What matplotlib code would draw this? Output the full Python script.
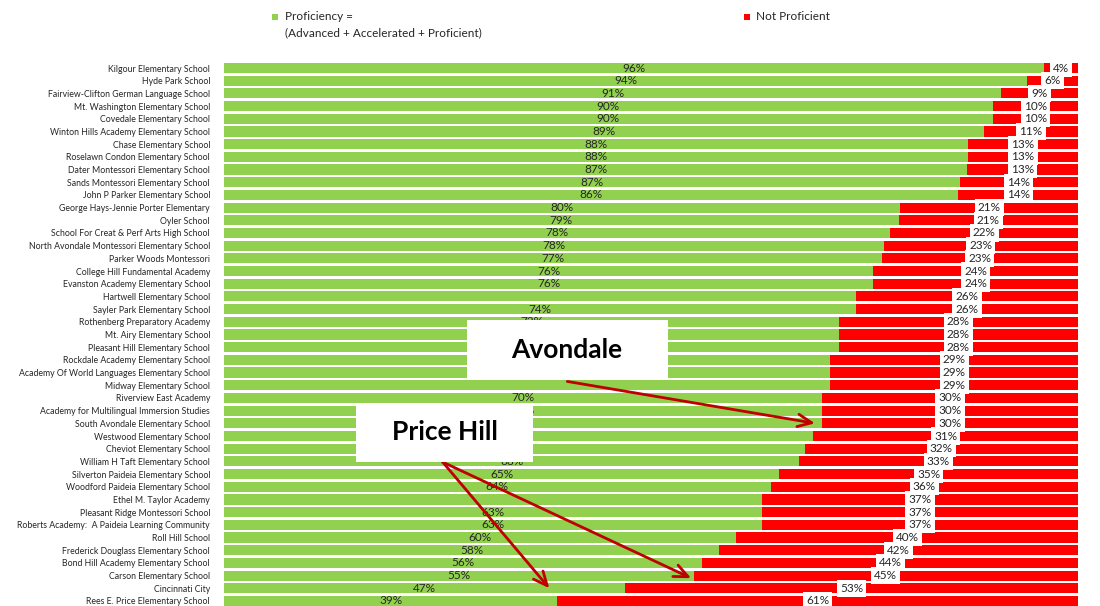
import matplotlib
matplotlib.use('Agg')
import matplotlib.pyplot as plt
from matplotlib.patches import Rectangle
import numpy as np

plt.rcParams['font.family'] = ['Lato', 'DejaVu Sans']

# schools, top to bottom
schools = [
    'Kilgour Elementary School', 'Hyde Park School', 'Fairview-Clifton German Language School',
    'Mt. Washington Elementary School', 'Covedale Elementary School',
    'Winton Hills Academy Elementary School', 'Chase Elementary School',
    'Roselawn Condon Elementary School', 'Dater Montessori Elementary School',
    'Sands Montessori Elementary School', 'John P Parker Elementary School',
    'George Hays-Jennie Porter Elementary', 'Oyler School',
    'School For Creat & Perf Arts High School', 'North Avondale Montessori Elementary School',
    'Parker Woods Montessori', 'College Hill Fundamental Academy',
    'Evanston Academy Elementary School', 'Hartwell Elementary School',
    'Sayler Park Elementary School', 'Rothenberg Preparatory Academy',
    'Mt. Airy Elementary School', 'Pleasant Hill Elementary School',
    'Rockdale Academy Elementary School', 'Academy Of World Languages Elementary School',
    'Midway Elementary School', 'Riverview East Academy',
    'Academy for Multilingual Immersion Studies', 'South Avondale Elementary School',
    'Westwood Elementary School', 'Cheviot Elementary School',
    'William H Taft Elementary School', 'Silverton Paideia Elementary School',
    'Woodford Paideia Elementary School', 'Ethel M. Taylor Academy',
    'Pleasant Ridge Montessori School', 'Roberts Academy:  A Paideia Learning Community',
    'Roll Hill School', 'Frederick Douglass Elementary School',
    'Bond Hill Academy Elementary School', 'Carson Elementary School',
    'Cincinnati City', 'Rees E. Price Elementary School',
]
proficient = [96, 94, 91, 90, 90, 89, 88, 88, 87, 87, 86, 80, 79, 78, 78, 77, 76, 76, 74, 74,
              72, 72, 72, 71, 71, 71, 70, 70, 70, 69, 68, 68, 65, 64, 63, 63, 63, 60, 58, 56,
              55, 47, 39]
not_proficient = [4, 6, 9, 10, 10, 11, 13, 13, 13, 14, 14, 21, 21, 22, 23, 23, 24, 24, 26, 26,
                  28, 28, 28, 29, 29, 29, 30, 30, 30, 31, 32, 33, 35, 36, 37, 37, 37, 40, 42, 44,
                  45, 53, 61]
# green labels that do not show in the original (missing or under the callouts)
hidden_green = ['Hartwell Elementary School', 'Ethel M. Taylor Academy',
                'Mt. Airy Elementary School', 'Pleasant Hill Elementary School',
                'Rockdale Academy Elementary School',
                'Academy Of World Languages Elementary School', 'Midway Elementary School',
                'South Avondale Elementary School', 'Westwood Elementary School',
                'Cheviot Elementary School']

GREEN = '#92D050'
RED = '#FF0000'
DARK_RED = '#C00000'
TXT = '#262626'

p = np.array(proficient, float)
n = np.array(not_proficient, float)
tot = p + n
p_sh = p / tot * 100
n_sh = n / tot * 100
y = np.arange(len(schools))

W, H = 1100, 606
fig = plt.figure(figsize=(W / 100, H / 100), dpi=100)
row = 12.69
top_px = 68 - row / 2
bot_px = top_px + row * len(schools)
ax = fig.add_axes([224 / W, (H - bot_px) / H, (1078 - 224) / W, (bot_px - top_px) / H])

ax.barh(y, p_sh, height=0.8, color=GREEN, zorder=1)
ax.barh(y, n_sh, left=p_sh, height=0.8, color=RED, zorder=1)

for i in range(len(schools)):
    if schools[i] not in hidden_green:
        ax.text(p_sh[i] / 2, i, f'{proficient[i]}%', ha='center', va='center',
                fontsize=8.5, color=TXT, zorder=2)
    ax.text(p_sh[i] + n_sh[i] / 2, i, f'{not_proficient[i]}%', ha='center', va='center',
            fontsize=8.5, color=TXT, zorder=2,
            bbox=dict(facecolor='white', edgecolor='none', pad=2.2))

ax.set_xlim(0, 100)
ax.set_ylim(len(schools) - 0.5, -0.5)
ax.set_yticks(y)
ax.set_yticklabels(schools, fontsize=6.3, color=TXT)
ax.tick_params(axis='y', length=0, pad=10)
ax.set_xticks([])
for s in ax.spines.values():
    s.set_visible(False)

# callout boxes
fig.patches.append(Rectangle((467 / W, 1 - 379 / H), 201 / W, 59 / H, transform=fig.transFigure,
                             facecolor='white', edgecolor='none', zorder=5))
fig.text(567 / W, 1 - 350 / H, 'Avondale', ha='center', va='center', fontsize=19,
         fontweight='bold', color='black', zorder=6)
fig.patches.append(Rectangle((356 / W, 1 - 462 / H), 177 / W, 59 / H, transform=fig.transFigure,
                             facecolor='white', edgecolor='none', zorder=5))
fig.text(445 / W, 1 - 432 / H, 'Price Hill', ha='center', va='center', fontsize=19,
         fontweight='bold', color='black', zorder=6)

arrow = dict(arrowstyle='->,head_length=1.0,head_width=0.45', color=DARK_RED, lw=2,
             shrinkA=0, shrinkB=0)
sa = schools.index('South Avondale Elementary School')
ax.annotate('', xy=(p_sh[sa] - 0.8, sa), xytext=(40.2, 24.7), arrowprops=arrow, zorder=7)
ca = schools.index('Carson Elementary School')
ax.annotate('', xy=(p_sh[ca] - 0.3, ca + 0.2), xytext=(25.6, 31.05), arrowprops=arrow, zorder=7)
rp = schools.index('Rees E. Price Elementary School')
ax.annotate('', xy=(p_sh[rp] - 0.9, rp - 1.0), xytext=(25.6, 31.05), arrowprops=arrow, zorder=7)

# legend
fig.patches.append(Rectangle((272 / W, 1 - 20 / H), 6 / W, 6 / H, transform=fig.transFigure,
                             facecolor=GREEN, edgecolor='none'))
fig.text(285 / W, 1 - 17 / H, 'Proficiency =', ha='left', va='center', fontsize=8.5, color=TXT)
fig.text(285 / W, 1 - 33 / H, '(Advanced + Accelerated + Proficient)', ha='left', va='center',
         fontsize=8.5, color=TXT)
fig.patches.append(Rectangle((744 / W, 1 - 20 / H), 6 / W, 6 / H, transform=fig.transFigure,
                             facecolor=RED, edgecolor='none'))
fig.text(756 / W, 1 - 17 / H, 'Not Proficient', ha='left', va='center', fontsize=8.5, color=TXT)

fig.savefig('out.png', dpi=100)
